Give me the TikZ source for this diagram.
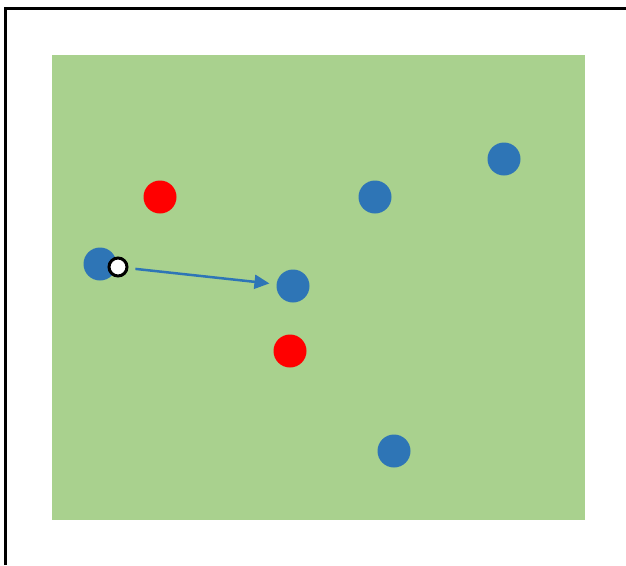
\documentclass[tikz,border=0pt]{standalone}
\usepackage{tikz}
\usetikzlibrary{arrows.meta,positioning}

\definecolor{pitch}{HTML}{A9D18E}
\definecolor{team}{HTML}{2E75B6}

\begin{document}
\begin{tikzpicture}[
  x=1pt, y=-1pt,
  blue player/.style={circle, fill=team, minimum size=33pt, inner sep=0pt},
  red player/.style={circle, fill=red, minimum size=33pt, inner sep=0pt},
  ball/.style={circle, draw=black, line width=3pt, fill=white, minimum size=18pt, inner sep=0pt},
  pass/.style={-{Triangle[length=15pt,width=14pt]}, line width=2.5pt, team}
]
\useasboundingbox (0,0) rectangle (626,565);

% frame and pitch
\draw[line width=3pt] (5,565) -- (5,8) -- (626,8);
\fill[pitch] (52,55) rectangle (585,520);

\node[red player]  (r1) at (160,197) {};
\node[red player]  (r2) at (290,351) {};

\node[blue player] (b1) at (100,264) {};
\node[blue player] (b2) at (293,286) {};
\node[blue player] (b3) at (375,197) {};
\node[blue player] (b4) at (504,159) {};
\node[blue player] (b5) at (394,451) {};

\node[ball] (ball) at (118,267) {};

\draw[pass, shorten <=7pt, shorten >=7pt] (ball) -- (b2);
\end{tikzpicture}
\end{document}
